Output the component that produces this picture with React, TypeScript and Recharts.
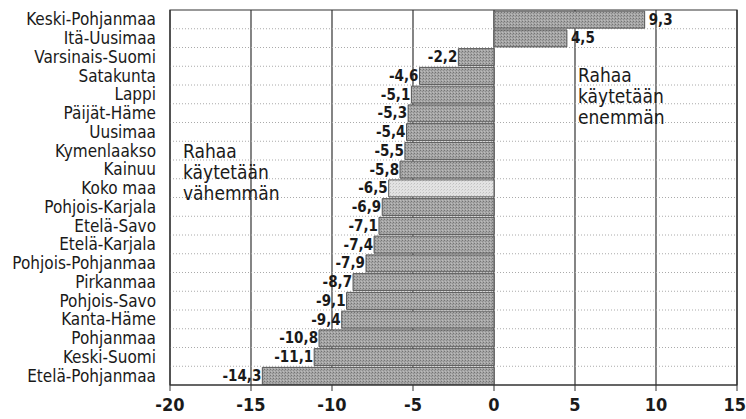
import React from 'react';
import {
    BarChart,
    Bar,
    XAxis,
    YAxis,
    CartesianGrid,
    Cell,
    LabelList,
    ReferenceArea,
} from 'recharts';

// alueet ylhäältä alas
const regions = [
    'Keski-Pohjanmaa', 'Itä-Uusimaa', 'Varsinais-Suomi', 'Satakunta', 'Lappi',
    'Päijät-Häme', 'Uusimaa', 'Kymenlaakso', 'Kainuu', 'Koko maa',
    'Pohjois-Karjala', 'Etelä-Savo', 'Etelä-Karjala', 'Pohjois-Pohjanmaa', 'Pirkanmaa',
    'Pohjois-Savo', 'Kanta-Häme', 'Pohjanmaa', 'Keski-Suomi', 'Etelä-Pohjanmaa',
];
const changes = [
    9.3, 4.5, -2.2, -4.6, -5.1,
    -5.3, -5.4, -5.5, -5.8, -6.5,
    -6.9, -7.1, -7.4, -7.9, -8.7,
    -9.1, -9.4, -10.8, -11.1, -14.3,
];
const xTicks = [-20, -15, -10, -5, 0, 5, 10, 15];
const highlight = 'Koko maa';

const FONT = "'Liberation Sans Narrow', 'DejaVu Sans Condensed', 'Arial Narrow', sans-serif";
const INK = '#1a1a1a';

const data = regions.map((name, i) => ({ name, value: changes[i] }));

const fmt = (v: number) => String(v).replace('.', ',');

const ValueLabel = (props: any) => {
    const { x, y, width, height, value } = props;
    const left = Math.min(x, x + width);
    const right = Math.max(x, x + width);
    const cy = y + height / 2 + 5;
    const neg = value < 0;
    return (
        <text
            x={neg ? left - 1 : right + 4}
            y={cy}
            textAnchor={neg ? 'end' : 'start'}
            fontFamily={FONT}
            fontWeight="bold"
            fontSize={15}
            fill={INK}
        >
            {fmt(value)}
        </text>
    );
};

// viimeinen tikki ei saa mennä reunan yli
const XTick = (props: any) => {
    const { x, y, payload } = props;
    const last = payload.value === xTicks[xTicks.length - 1];
    return (
        <text
            x={last ? x + 9 : x}
            y={y + 14}
            textAnchor={last ? 'end' : 'middle'}
            fontFamily={FONT}
            fontWeight="bold"
            fontSize={18}
            fill={INK}
        >
            {payload.value}
        </text>
    );
};

// katkoviivat rivien väliin
const rowBoundaries = ({ offset }: any) => {
    const n = regions.length;
    const out: number[] = [];
    for (let i = 1; i < n; i++) out.push(offset.top + (offset.height * i) / n);
    return out;
};

const noteStyle: React.CSSProperties = {
    position: 'absolute',
    fontFamily: FONT,
    fontSize: 19,
    lineHeight: '21px',
    color: INK,
    pointerEvents: 'none',
};

export default function App() {
    return (
        <div style={{ position: 'absolute', left: 0, top: 0, width: 746, height: 419, background: '#fff' }}>
            <BarChart
                width={746}
                height={419}
                data={data}
                layout="vertical"
                margin={{ top: 10, right: 9, left: 0, bottom: 4 }}
                barCategoryGap="6%"
            >
                <defs>
                    <pattern id="dotsDark" width="3" height="3" patternUnits="userSpaceOnUse">
                        <rect width="3" height="3" fill="#a6a6a6" />
                        <rect width="1" height="1" fill="#747474" />
                        <rect x="2" y="1" width="1" height="1" fill="#8c8c8c" />
                        <rect x="1" y="2" width="1" height="1" fill="#bcbcbc" />
                    </pattern>
                    <pattern id="dotsLight" width="3" height="3" patternUnits="userSpaceOnUse">
                        <rect width="3" height="3" fill="#e2e2e2" />
                        <rect width="1" height="1" fill="#c0c0c0" />
                        <rect x="2" y="1" width="1" height="1" fill="#d0d0d0" />
                    </pattern>
                </defs>
                <CartesianGrid
                    horizontal={false}
                    vertical
                    stroke="#333"
                    strokeWidth={1.2}
                />
                <CartesianGrid
                    vertical={false}
                    horizontal
                    stroke="#aaa"
                    strokeDasharray="1 2"
                    horizontalCoordinatesGenerator={rowBoundaries}
                />
                <XAxis
                    type="number"
                    domain={[-20, 15]}
                    ticks={xTicks}
                    interval={0}
                    height={30}
                    axisLine={{ stroke: '#333' }}
                    tickLine={{ stroke: '#333' }}
                    tickSize={6}
                    tickMargin={6}
                    tick={<XTick />}
                />
                <YAxis
                    type="category"
                    dataKey="name"
                    width={170}
                    interval={0}
                    axisLine={false}
                    tickLine={false}
                    tickSize={0}
                    tickMargin={14}
                    tick={{ fontFamily: FONT, fontSize: 17, fill: INK }}
                />
                <Bar dataKey="value" stroke="#555" strokeWidth={1} isAnimationActive={false}>
                    {data.map((d) => (
                        <Cell key={d.name} fill={d.name === highlight ? 'url(#dotsLight)' : 'url(#dotsDark)'} />
                    ))}
                    <LabelList dataKey="value" content={<ValueLabel />} />
                </Bar>
                <ReferenceArea x1={-20} x2={15} fill="none" stroke="#333" strokeWidth={1.2} />
            </BarChart>
            <div style={{ ...noteStyle, left: 183, top: 141 }}>
                Rahaa<br />käytetään<br />vähemmän
            </div>
            <div style={{ ...noteStyle, left: 578, top: 65 }}>
                Rahaa<br />käytetään<br />enemmän
            </div>
        </div>
    );
}
